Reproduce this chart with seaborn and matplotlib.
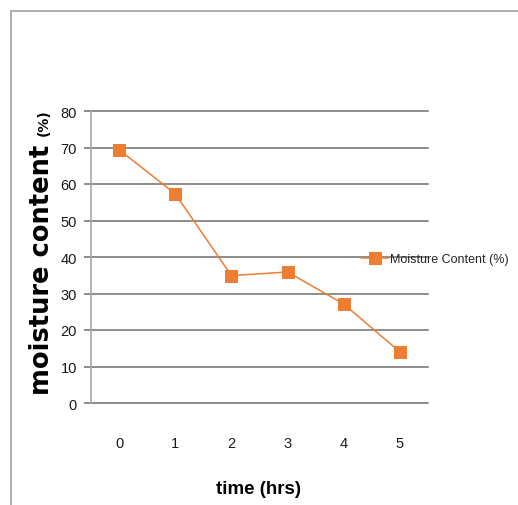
import matplotlib
matplotlib.use("Agg")
import matplotlib.pyplot as plt
from matplotlib.lines import Line2D
import seaborn as sns
import pandas as pd

time_hrs = [0, 1, 2, 3, 4, 5]
moisture = [69.4, 57.3, 34.9, 35.9, 27.1, 14.0]
y_ticks = [0, 10, 20, 30, 40, 50, 60, 70, 80]
series_name = "Moisture Content (%)"

sns.set_style("white")
plt.rcParams['font.family'] = ['Liberation Sans', 'DejaVu Sans']

W, H = 518, 506
fig = plt.figure(figsize=(W / 100, H / 100), dpi=100)
ax = fig.add_axes([91 / W, 1 - 404 / H, (428 - 91) / W, (404 - 112) / H])

df = pd.DataFrame({"time": time_hrs, "mc": moisture, "s": series_name})
orange = "#ED7D31"
sns.lineplot(data=df, x="time", y="mc", hue="s", palette=[orange], marker="s",
             markersize=8.5, markeredgecolor=orange, linewidth=1.1, ax=ax, zorder=3)
for ln in ax.get_lines():
    ln.set_clip_on(False)

ax.set_xlim(-0.5, 5.5)
ax.set_ylim(0, 80)
ax.set_yticks(y_ticks)
ax.set_xticks(time_hrs)
ax.set_xticklabels([str(t) for t in time_hrs])
ax.grid(axis="y", color="#8c8c8c", linewidth=1.4)
ax.grid(axis="x", visible=False)
for g in ax.get_ygridlines():
    g.set_clip_on(False)
for s in ["top", "right", "bottom"]:
    ax.spines[s].set_visible(False)
ax.spines["left"].set_color("#a8a8a8")
ax.spines["left"].set_linewidth(1.2)
ax.tick_params(axis="y", left=True, length=5, color="#8c8c8c", width=1.4,
               labelsize=10.5, pad=5, labelcolor="#1a1a1a")
ax.tick_params(axis="x", bottom=False, labelsize=10.5, pad=20, labelcolor="#1a1a1a")

ax.set_xlabel("")
ax.set_ylabel("")
fig.text(258 / W, 1 - 490 / H, "time (hrs)", ha="center", va="center",
         fontsize=13.5, fontweight="bold", color="black")
fig.text(42 / W, 1 - 270 / H, "moisture content", ha="center", va="center",
         rotation=90, fontsize=18.5, fontweight="bold", color="black",
         family=["DejaVu Sans"])
fig.text(44 / W, 1 - 123 / H, "(%)", ha="center", va="center",
         rotation=90, fontsize=10, fontweight="bold", color="black",
         family=["DejaVu Sans"])

leg = ax.legend(loc="center left", bbox_to_anchor=(361 / W, 1 - 260 / H),
                bbox_transform=fig.transFigure, frameon=False, fontsize=9,
                handlelength=2.2, handletextpad=0.15, borderaxespad=0,
                borderpad=0)

fig.add_artist(Line2D([11 / W, 11 / W, 1.0], [0.0, 1 - 12 / H, 1 - 12 / H],
                      transform=fig.transFigure, color="#b0b0b0", linewidth=1.5))

fig.savefig("out.png", dpi=100)
